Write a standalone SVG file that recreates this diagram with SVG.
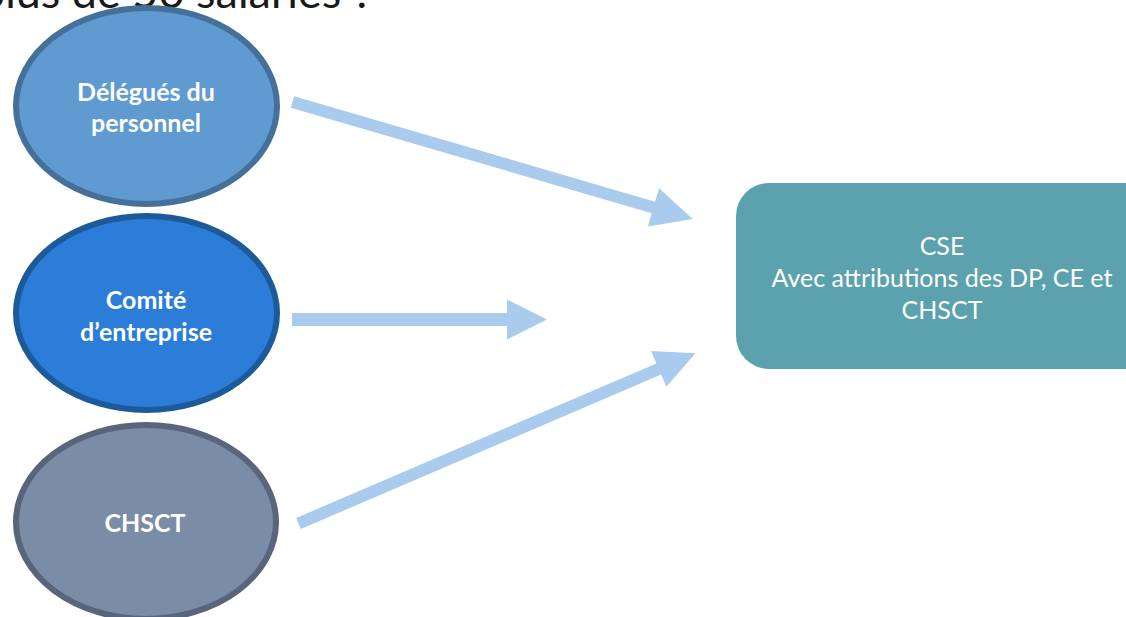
<svg xmlns="http://www.w3.org/2000/svg" width="1126" height="617" viewBox="0 0 1126 617">
  <style>
    .title { font-family: Lato, "Open Sans", "Liberation Sans", sans-serif; font-size: 45px; fill: #1a1a1a; }
    .lbl { font-family: Lato, "Open Sans", "Liberation Sans", sans-serif; font-size: 25px; font-weight: bold; fill: #ffffff; text-anchor: middle; }
    .cse { font-family: Lato, "Open Sans", "Liberation Sans", sans-serif; font-size: 25px; fill: #ffffff; text-anchor: middle; }
    .arrow { fill: #A9CBEE; }
  </style>
  <rect width="1126" height="617" fill="#ffffff"/>

  <!-- slide title, mostly above the visible area -->
  <text class="title" x="373" y="8" text-anchor="end">Entreprises de plus de 50 salariés ?</text>

  <g id="node-dp">
    <ellipse cx="146.5" cy="106" rx="130.5" ry="98" fill="#5F9BD1" stroke="#44709A" stroke-width="6"/>
    <text class="lbl" x="146" y="101">Délégués du</text>
    <text class="lbl" x="146" y="132">personnel</text>
  </g>

  <g id="node-ce">
    <ellipse cx="146.5" cy="313" rx="130.5" ry="97" fill="#2B7DD8" stroke="#1D5A9A" stroke-width="6"/>
    <text class="lbl" x="146" y="309">Comité</text>
    <text class="lbl" x="146" y="341">d’entreprise</text>
  </g>

  <g id="node-chsct">
    <ellipse cx="146" cy="522" rx="130" ry="97" fill="#7A8CA6" stroke="#58657A" stroke-width="6"/>
    <text class="lbl" x="145" y="532">CHSCT</text>
  </g>

  <g id="node-cse">
    <rect x="736" y="183" width="430" height="186" rx="33" ry="33" fill="#5BA2AE"/>
    <text class="cse" x="942" y="255">CSE</text>
    <text class="cse" x="942" y="287">Avec attributions des DP, CE et</text>
    <text class="cse" x="942" y="319">CHSCT</text>
  </g>

  <g id="connectors">
    <!-- block arrows: shaft then head, drawn along +x and rotated into place -->
    <polygon class="arrow" transform="translate(292.5,102) rotate(16.28)" points="0,-6 376,-6 376,-20 417,0 376,20 376,6 0,6"/>
    <polygon class="arrow" transform="translate(292,319.5)" points="0,-6.5 215,-6.5 215,-20 255,0 215,20 215,6.5 0,6.5"/>
    <polygon class="arrow" transform="translate(298.5,523.5) rotate(-23.22)" points="0,-6 392,-6 392,-19.5 432,0 392,19.5 392,6 0,6"/>
  </g>
</svg>
